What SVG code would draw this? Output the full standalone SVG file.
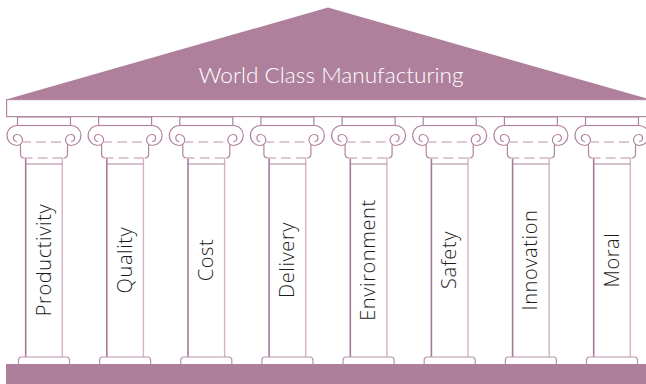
<svg xmlns="http://www.w3.org/2000/svg" xmlns:xlink="http://www.w3.org/1999/xlink" width="646" height="384" viewBox="0 0 646 384">
  <style>
    .roof { fill: #ae809c; }
    .beam { fill: #ffffff; stroke: #b48ca6; stroke-width: 1.2; }
    .floor { fill: #ae7f9b; }
    .ink { fill: none; stroke: #b0849f; stroke-width: 1.2; }
    .ink-w { fill: #ffffff; stroke: #b0849f; stroke-width: 1.2; }
    .dash { fill: none; stroke: #d3b6c7; stroke-width: 1.4; stroke-dasharray: 10 5; }
    .shaft-l { stroke: #a9799a; stroke-width: 1.6; }
    .shaft-r { stroke: #d2b3c6; stroke-width: 1.4; }
    .plinth { fill: #ffffff; stroke: #bb93ab; stroke-width: 1.2; }
    .title { font-family: "Lato", "Open Sans", "Liberation Sans", sans-serif; font-weight: 300; font-size: 21.5px; fill: #ffffff; }
    .label { font-family: "Open Sans", "Lato", "Liberation Sans", sans-serif; font-weight: 300; font-size: 20px; letter-spacing: 0.6px; fill: #1c1c1c; }
  </style>
  <defs>
    <!-- Ionic capital, drawn around x = 0 -->
    <g id="capital">
      <rect class="ink-w" x="-26.5" y="117" width="53" height="8.5"/>
      <!-- volute band with spirals at both ends -->
      <path class="ink" d="M -27 125.5 H 27
        M -27 125.5 A 10 10 0 0 0 -27 145.5 A 5.5 5.5 0 0 0 -27 134.5 A 3.5 3.5 0 0 0 -27 141.5
        M 27 125.5 A 10 10 0 0 1 27 145.5 A 5.5 5.5 0 0 1 27 134.5 A 3.5 3.5 0 0 1 27 141.5"/>
      <!-- echinus -->
      <path class="ink" d="M -23.5 144.5 V 154 Q -23.5 158 -19.5 158 M 23.5 144.5 V 154 Q 23.5 158 19.5 158"/>
      <line class="dash" x1="-21" y1="142" x2="21" y2="142" stroke-dashoffset="2"/>
      <line class="dash" x1="-19.5" y1="158" x2="19.5" y2="158" stroke-dashoffset="2"/>
      <!-- necking -->
      <line class="ink" x1="-18.3" y1="164" x2="18.3" y2="164"/>
    </g>
    <!-- shaft and plinth, drawn around x = 0 -->
    <g id="shaft">
      <line class="shaft-l" x1="-18.3" y1="158" x2="-18.3" y2="357"/>
      <line class="shaft-r" x1="18.3" y1="158" x2="18.3" y2="357"/>
      <path class="plinth" d="M -25.5 364 V 360 Q -25.5 357 -22.5 357 H 22.5 Q 25.5 357 25.5 360 V 364"/>
    </g>
  </defs>

  <!-- pediment and entablature -->
  <g id="roof">
    <polygon class="roof" points="6,99.5 328,7.5 650,99.5"/>
    <rect class="beam" x="6.6" y="99.6" width="645" height="17"/>
    <text class="title" x="331" y="83" text-anchor="middle" textLength="265" lengthAdjust="spacingAndGlyphs">World Class Manufacturing</text>
  </g>

  <!-- stylobate -->
  <g id="floor">
    <rect class="floor" x="6" y="364" width="642" height="21"/>
  </g>

  <g id="pillar-productivity">
    <use xlink:href="#shaft" x="44"/>
    <use xlink:href="#capital" x="44"/>
    <text class="label" transform="translate(50.5,260) rotate(-90)" text-anchor="middle">Productivity</text>
  </g>
  <g id="pillar-quality">
    <use xlink:href="#shaft" x="125.1"/>
    <use xlink:href="#capital" x="125.1"/>
    <text class="label" transform="translate(131.6,260) rotate(-90)" text-anchor="middle">Quality</text>
  </g>
  <g id="pillar-cost">
    <use xlink:href="#shaft" x="206.3"/>
    <use xlink:href="#capital" x="206.3"/>
    <text class="label" transform="translate(212.8,260) rotate(-90)" text-anchor="middle">Cost</text>
  </g>
  <g id="pillar-delivery">
    <use xlink:href="#shaft" x="287.4"/>
    <use xlink:href="#capital" x="287.4"/>
    <text class="label" transform="translate(293.9,260) rotate(-90)" text-anchor="middle">Delivery</text>
  </g>
  <g id="pillar-environment">
    <use xlink:href="#shaft" x="368.6"/>
    <use xlink:href="#capital" x="368.6"/>
    <text class="label" transform="translate(375.1,260) rotate(-90)" text-anchor="middle">Environment</text>
  </g>
  <g id="pillar-safety">
    <use xlink:href="#shaft" x="449.7"/>
    <use xlink:href="#capital" x="449.7"/>
    <text class="label" transform="translate(456.2,260) rotate(-90)" text-anchor="middle">Safety</text>
  </g>
  <g id="pillar-innovation">
    <use xlink:href="#shaft" x="530.9"/>
    <use xlink:href="#capital" x="530.9"/>
    <text class="label" transform="translate(537.4,260) rotate(-90)" text-anchor="middle">Innovation</text>
  </g>
  <g id="pillar-moral">
    <use xlink:href="#shaft" x="612"/>
    <use xlink:href="#capital" x="612"/>
    <text class="label" transform="translate(618.5,260) rotate(-90)" text-anchor="middle">Moral</text>
  </g>
</svg>
